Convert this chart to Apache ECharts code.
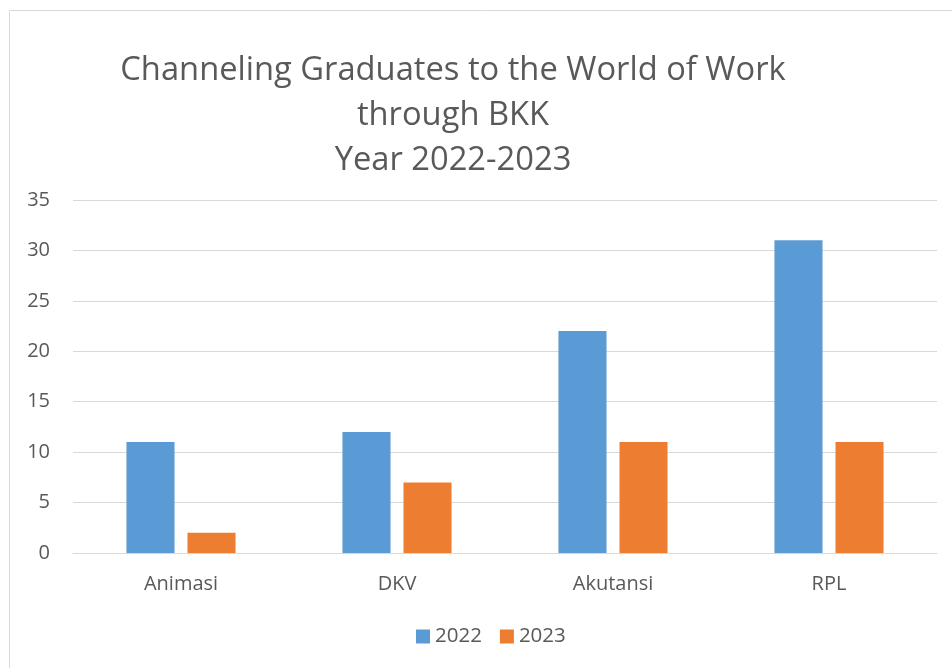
<!DOCTYPE html>
<html><head><meta charset="utf-8">
<script src="https://cdn.jsdelivr.net/npm/echarts@6/dist/echarts.min.js"></script>
<style>html,body{margin:0;padding:0;background:#fff}#c{width:952px;height:668px}</style>
</head><body><div id="c"></div>
<script>
const categories = ['Animasi', 'DKV', 'Akutansi', 'RPL'];
const values2022 = [11, 12, 22, 31];
const values2023 = [2, 7, 11, 11];
const yTicks = [0, 5, 10, 15, 20, 25, 30, 35];

const chart = echarts.init(document.getElementById('c'), null, {renderer: 'canvas'});
const font = 'Open Sans, Noto Sans, sans-serif';
chart.setOption({
  animation: false,
  backgroundColor: '#fff',
  graphic: [{
    type: 'rect', shape: {x: 9.5, y: 10.5, width: 1000, height: 700},
    style: {fill: 'none', stroke: '#d9d9d9', lineWidth: 1}, silent: true
  }],
  title: {
    text: 'Channeling Graduates to the World of Work\nthrough BKK\nYear 2022-2023',
    left: 448, top: 43, textAlign: 'center',
    textStyle: {fontFamily: font, fontSize: 32.7, fontWeight: 'normal', color: '#595959', lineHeight: 45}
  },
  legend: {
    data: ['2022', '2023'], left: 416, top: 626, itemWidth: 14, itemHeight: 14, itemGap: 18,
    icon: 'rect', padding: 0,
    textStyle: {fontFamily: font, fontSize: 20.5, color: '#595959'}
  },
  grid: {left: 73, right: 15, top: 200, bottom: 115, containLabel: false},
  xAxis: {
    type: 'category', data: categories,
    axisLine: {lineStyle: {color: '#d9d9d9', width: 1}},
    axisTick: {show: false},
    axisLabel: {fontFamily: font, fontSize: 20, color: '#595959', margin: 21}
  },
  yAxis: {
    type: 'value', min: yTicks[0], max: yTicks[yTicks.length - 1], interval: 5,
    axisLine: {show: false}, axisTick: {show: false},
    splitLine: {lineStyle: {color: '#d9d9d9', width: 1}},
    axisLabel: {fontFamily: font, fontSize: 20, color: '#595959', margin: 23}
  },
  series: [
    {name: '2022', type: 'bar', data: values2022, itemStyle: {color: '#5B9BD5'}, barGap: '27%', barCategoryGap: '49.5%'},
    {name: '2023', type: 'bar', data: values2023, itemStyle: {color: '#ED7D31'}, barGap: '27%', barCategoryGap: '49.5%'}
  ]
});
</script></body></html>
